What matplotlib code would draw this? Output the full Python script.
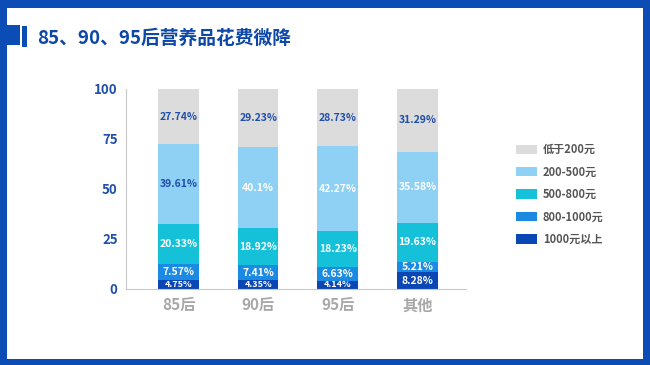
import numpy as np
import matplotlib.pyplot as plt
from matplotlib.patches import Rectangle

plt.rcParams['font.family'] = ['Noto Sans CJK SC', 'DejaVu Sans']

groups = ['85后', '90后', '95后', '其他']
series = ['1000元以上', '800-1000元', '500-800元', '200-500元', '低于200元']
values = {
    '1000元以上': [4.75, 4.35, 4.14, 8.28],
    '800-1000元': [7.57, 7.41, 6.63, 5.21],
    '500-800元': [20.33, 18.92, 18.23, 19.63],
    '200-500元': [39.61, 40.1, 42.27, 35.58],
    '低于200元': [27.74, 29.23, 28.73, 31.29],
}
colors = ['#0a47b4', '#1a8ae3', '#15c0d9', '#8fd0f5', '#dcdcdc']
# label colour per segment (reference is not consistent, copy it)
label_colors = {
    '1000元以上': ['white'] * 4,
    '800-1000元': ['white'] * 4,
    '500-800元': ['white'] * 4,
    '200-500元': ['#1f4fa8', 'white', 'white', 'white'],
    '低于200元': ['#1f4fa8'] * 4,
}

W, H = 650, 365
fig = plt.figure(figsize=(W / 100, H / 100), dpi=100)
fig.patch.set_facecolor('#0b4db5')

# white card inside the blue frame
fig.patches.append(Rectangle((7 / W, 6 / H), (643 - 7) / W, (358 - 7) / H,
                             transform=fig.transFigure, facecolor='white',
                             edgecolor='none', zorder=-2))
# title marks
fig.patches.append(Rectangle((0, 1 - 45 / H), 20 / W, 20 / H,
                             transform=fig.transFigure, facecolor='#0b4db5',
                             edgecolor='none', zorder=-1))
fig.patches.append(Rectangle((22 / W, 1 - 47 / H), 5 / W, 21 / H,
                             transform=fig.transFigure, facecolor='#0b4db5',
                             edgecolor='none', zorder=-1))
fig.text(37 / W, 1 - 38.5 / H, '85、90、95后营养品花费微降', fontsize=13.5,
         fontweight='bold', color='#0d48a8', va='center', ha='left')

ax = fig.add_axes([126 / W, 1 - 289 / H, (466 - 126) / W, 200 / H])
ax.set_zorder(1)
ax.set_facecolor('none')

x = np.arange(len(groups))
bottom = np.zeros(len(groups))
handles = []
for s, c in zip(series, colors):
    v = np.array(values[s])
    b = ax.bar(x, v, 0.51, bottom=bottom, color=c, label=s, zorder=2)
    handles.append(b)
    for i in range(len(groups)):
        small = v[i] < 5
        ax.text(x[i], bottom[i] + v[i] / 2, f'{v[i]:g}%',
                ha='center', va='center', fontsize=6.5 if small else 7.5,
                fontweight='bold', color=label_colors[s][i], zorder=3)
    bottom += v

ax.set_xlim(-0.66, 3.61)
ax.set_ylim(0, 100)
ax.set_yticks([0, 25, 50, 75, 100])
ax.tick_params(axis='y', length=0, labelsize=9.5, labelcolor='#1f4fa8', pad=6)
ax.tick_params(axis='x', length=0, labelsize=11, labelcolor='#a8a8a8', pad=6)
for lab in ax.get_yticklabels():
    lab.set_fontweight('bold')
ax.set_xticks(x)
ax.set_xticklabels(groups)
for lab in ax.get_xticklabels():
    lab.set_fontweight('bold')
ax.spines['top'].set_visible(False)
ax.spines['right'].set_visible(False)
ax.spines['left'].set_color('#c8c8c8')
ax.spines['bottom'].set_color('#c8c8c8')

leg = fig.legend(handles[::-1], series[::-1], loc='upper left',
                 bbox_to_anchor=(506 / W, 1 - 133 / H), frameon=False,
                 fontsize=8, handlelength=1.9, handleheight=0.9,
                 labelspacing=0.85, handletextpad=0.5)
for t in leg.get_texts():
    t.set_color('#555555')
    t.set_fontweight('bold')

fig.savefig('out.png', dpi=100)
